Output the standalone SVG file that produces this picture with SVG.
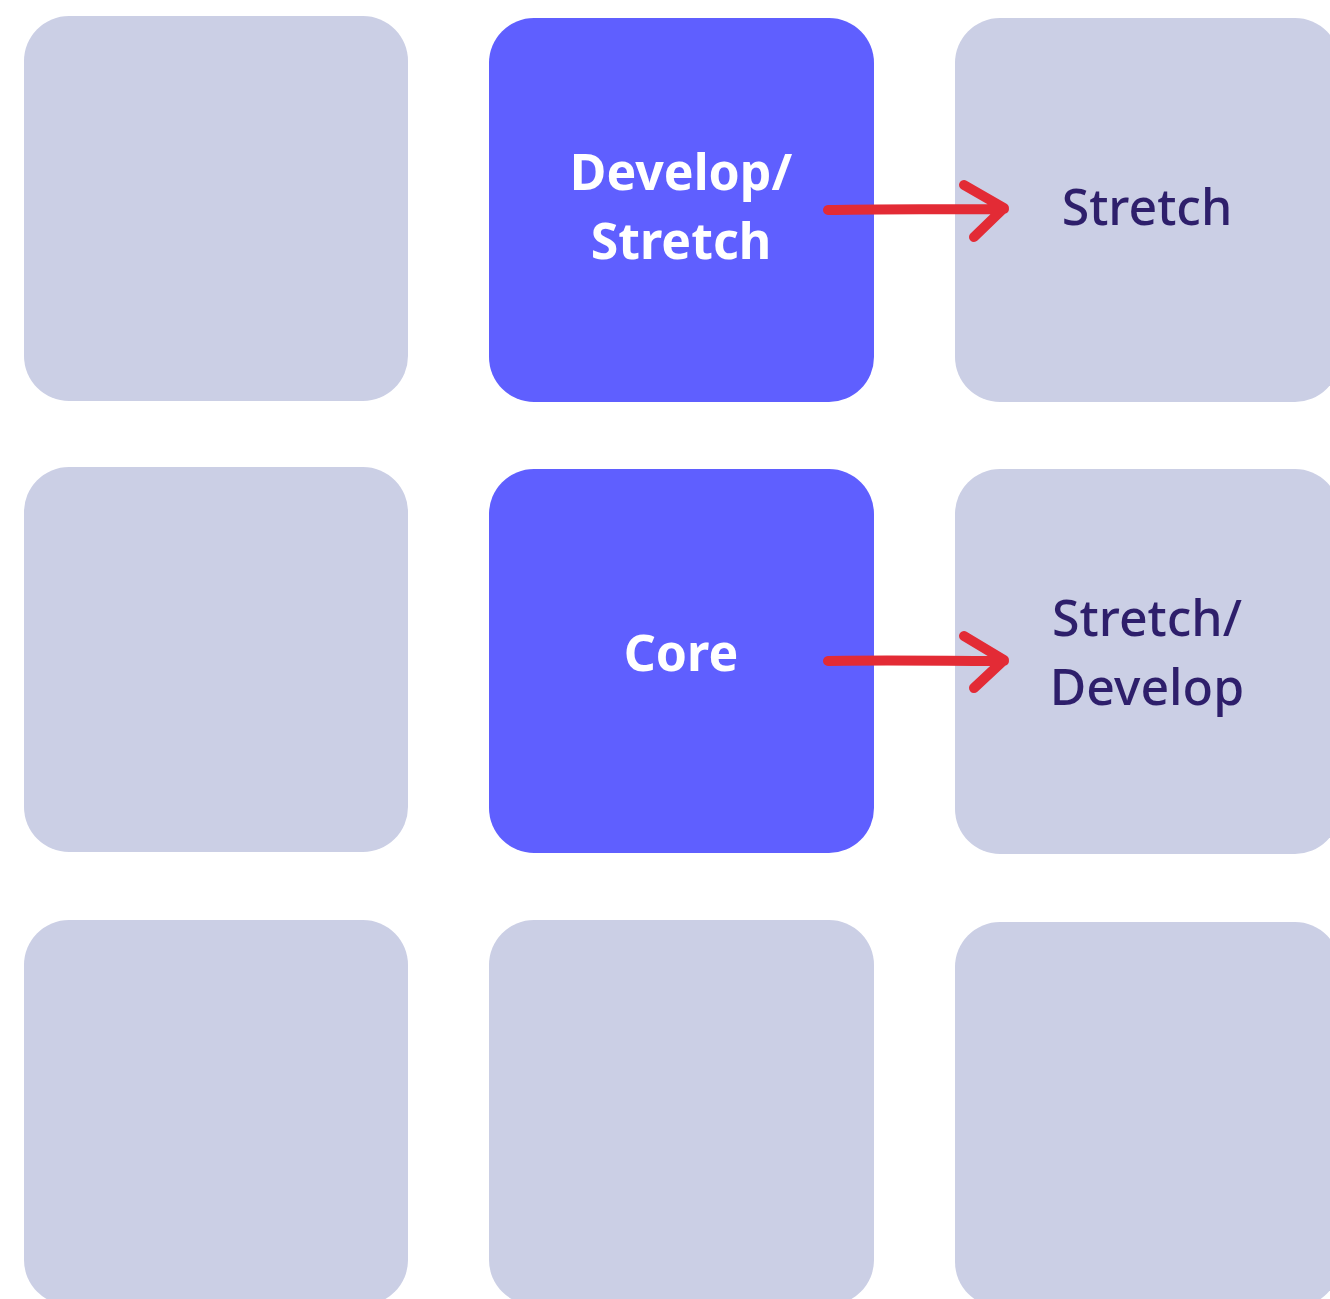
<svg xmlns="http://www.w3.org/2000/svg" width="1330" height="1299" viewBox="0 0 1330 1299">
<style>
.light{fill:#CBCFE5}
.dark{fill:#5F5FFF}
.t{font-family:"Noto Sans","Open Sans",sans-serif;font-size:50px;text-anchor:middle}
.tw{fill:#FFFFFF;font-weight:bold}
.td{fill:#2E1F6B;font-weight:500}
.arr{fill:none;stroke:#E32B35;stroke-width:10;stroke-linecap:round;stroke-linejoin:round}
</style>
<rect width="1330" height="1299" fill="#FFFFFF"/>
<g id="n11"><rect class="light" x="24" y="16" width="384" height="385" rx="45"/></g>
<g id="n12"><rect class="dark" x="489" y="18" width="385" height="384" rx="45"/>
<text class="t tw" x="681" y="190">Develop/</text><text class="t tw" x="681" y="259">Stretch</text></g>
<g id="n13"><rect class="light" x="955" y="18" width="385" height="384" rx="45"/>
<text class="t td" x="1147" y="225">Stretch</text></g>
<g id="n21"><rect class="light" x="24" y="467" width="384" height="385" rx="45"/></g>
<g id="n22"><rect class="dark" x="489" y="469" width="385" height="384" rx="45"/>
<text class="t tw" x="681" y="671">Core</text></g>
<g id="n23"><rect class="light" x="955" y="469" width="385" height="385" rx="45"/>
<text class="t td" x="1147" y="636">Stretch/</text><text class="t td" x="1147" y="705">Develop</text></g>
<g id="n31"><rect class="light" x="24" y="920" width="384" height="385" rx="45"/></g>
<g id="n32"><rect class="light" x="489" y="920" width="385" height="385" rx="45"/></g>
<g id="n33"><rect class="light" x="955" y="922" width="385" height="385" rx="45"/></g>
<g id="connectors">
<path class="arr" d="M828,210 C880,209 950,209 1004,209 M964,185 L1004,208 L974,237"/>
<path class="arr" d="M828,661 C880,660 950,661 1004,661 M964,636 L1004,660 L974,688"/>
</g>
</svg>
